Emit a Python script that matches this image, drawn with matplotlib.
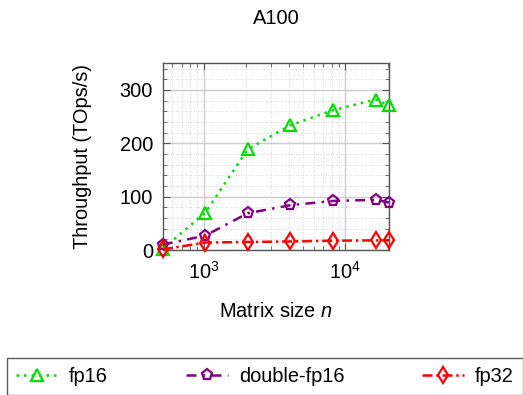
import matplotlib
matplotlib.use("Agg")
import matplotlib.pyplot as plt
from matplotlib.ticker import LogLocator, MultipleLocator, NullFormatter

plt.rcParams['font.family'] = ['Liberation Sans', 'DejaVu Sans']
plt.rcParams['mathtext.fontset'] = 'custom'
plt.rcParams['mathtext.rm'] = 'Liberation Sans'
plt.rcParams['mathtext.it'] = 'Liberation Sans:italic'
plt.rcParams['mathtext.bf'] = 'Liberation Sans:bold'

n = [512, 1024, 2048, 4096, 8192, 16384, 20480]
fp16 = [2, 70, 189, 234, 262, 282, 271]
double_fp16 = [10, 27, 69, 84, 92, 94, 89]
fp32 = [1, 14, 15, 16, 17.5, 18, 18]

FS = 14.4
fig = plt.figure(figsize=(5.23, 3.95), dpi=100)
W, H = 523, 395
ax = fig.add_axes([162.7 / W, 1 - 250 / H, (389.3 - 162.7) / W, (250 - 63.3) / H])

green = '#00dd00'
purple = '#800080'
red = '#ff0000'

ax.plot(n, fp16, color=green, linestyle=(0, (1, 2)), linewidth=1.8,
        marker='^', markersize=8, markerfacecolor='none', markeredgewidth=1.6,
        label='fp16', clip_on=False, zorder=3)
ax.plot(n, double_fp16, color=purple, linestyle=(0, (4, 2.5, 1, 2.5)), linewidth=1.8,
        marker='p', markersize=8, markerfacecolor='none', markeredgewidth=1.6,
        label='double-fp16', clip_on=False, zorder=3)
ax.plot(n, fp32, color=red, linestyle=(0, (4, 1.5, 1, 1.5)), linewidth=1.8,
        marker='d', markersize=8, markerfacecolor='none', markeredgewidth=1.6,
        label='fp32', clip_on=False, zorder=3)

ax.set_xscale('log')
ax.set_xlim(512, 20480)
ax.set_ylim(0, 350)
ax.xaxis.set_major_locator(LogLocator(base=10))
ax.xaxis.set_minor_locator(LogLocator(base=10, subs=range(2, 10)))
ax.xaxis.set_minor_formatter(NullFormatter())
ax.yaxis.set_major_locator(MultipleLocator(100))
ax.yaxis.set_minor_locator(MultipleLocator(20))

ax.grid(which='major', color='#cccccc', linewidth=1.0, linestyle='-')
ax.grid(which='minor', color='#cccccc', linewidth=0.6, linestyle=(0, (1, 2)))
ax.set_axisbelow(True)

ax.tick_params(which='both', direction='in', top=True, right=True, colors='#555555',
               labelcolor='black', labelsize=FS)
ax.tick_params(which='major', length=5, width=0.8)
ax.tick_params(axis='y', which='major', pad=7)
ax.tick_params(axis='x', which='major', pad=8)
ax.tick_params(which='minor', length=3, width=0.6)
for s in ax.spines.values():
    s.set_color('#555555')
    s.set_linewidth(1.0)

ax.set_title('A100', fontsize=FS, pad=28)
ax.set_xlabel('Matrix size $n$', fontsize=FS, labelpad=14)
ax.set_ylabel('Throughput (TOps/s)', fontsize=FS, labelpad=20)

handles, labels = ax.get_legend_handles_labels()
leg = fig.legend(handles, labels, loc='upper left', ncol=3, mode='expand',
                 bbox_to_anchor=(7 / W, 1 - 357.5 / H, 516 / W, 0),
                 fontsize=FS, frameon=True, fancybox=False, edgecolor='#333333',
                 handlelength=2.1, handletextpad=0.55, borderpad=0.45,
                 borderaxespad=0.0)
leg.get_frame().set_linewidth(1.0)

fig.savefig('out.png', dpi=100)
